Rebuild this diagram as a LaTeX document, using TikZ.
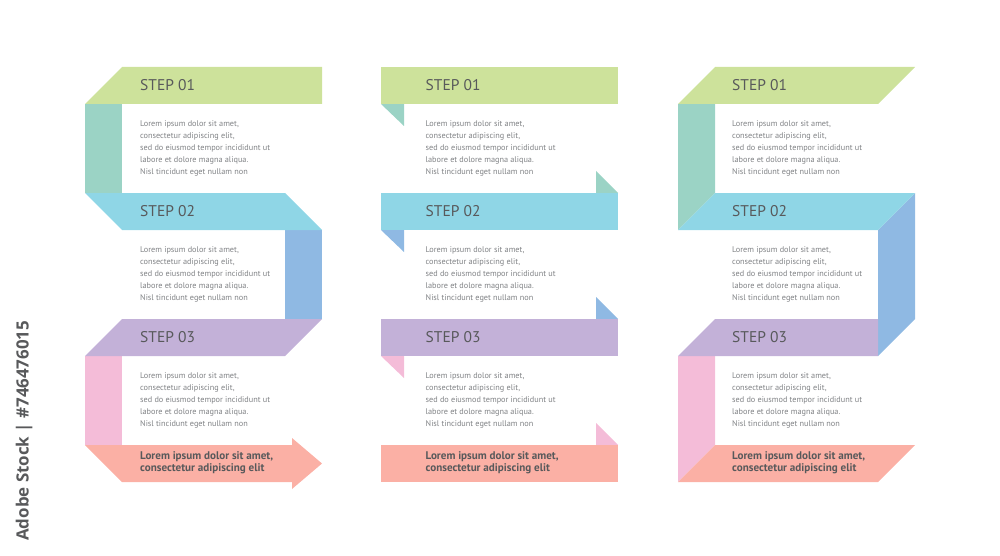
\documentclass[tikz,border=0pt]{standalone}
\usepackage{fontspec}
\setmainfont{PT Sans}
\newfontfamily\stockfont{Open Sans}
\definecolor{stepgreen}{HTML}{CDE29B}
\definecolor{stepteal}{HTML}{9BD3C5}
\definecolor{stepsky}{HTML}{8FD6E6}
\definecolor{stepblue}{HTML}{8FB9E3}
\definecolor{steppurple}{HTML}{C3B1D8}
\definecolor{steppink}{HTML}{F4BCD8}
\definecolor{stepsalmon}{HTML}{FBB0A5}
\definecolor{stepdark}{HTML}{58595B}
\definecolor{stepgrey}{HTML}{808285}
\newcommand{\loremtext}{Lorem ipsum dolor sit amet,\\consectetur adipiscing elit,\\sed do eiusmod tempor incididunt ut\\labore et dolore magna aliqua.\\Nisl tincidunt eget nullam non}
\newcommand{\lasttext}{Lorem ipsum dolor sit amet,\\consectetur adipiscing elit}
\tikzset{
  steptitle/.style={anchor=west,inner sep=0pt,text=stepdark,font=\fontsize{15.5}{16}\selectfont},
  stepbody/.style={anchor=west,inner sep=0pt,align=left,text=stepgrey,font=\fontsize{8.25}{11.8}\selectfont},
  steplast/.style={anchor=west,inner sep=0pt,align=left,text=stepdark,font=\fontsize{11.1}{11.6}\selectfont\bfseries},
}
\begin{document}
\begin{tikzpicture}[x=1pt,y=-1pt]
\useasboundingbox (0,0) rectangle (1000,556);
% left ribbon
\fill[stepteal] (85,104) rectangle (122,193);
\fill[stepblue] (285,230) rectangle (322,319);
\fill[steppink] (85,356) rectangle (122,445);
\fill[stepgreen] (122,67) -- (322,67) -- (322,104) -- (85,104) -- cycle;
\fill[stepsky] (85,193) -- (285,193) -- (322,230) -- (122,230) -- cycle;
\fill[steppurple] (122,319) -- (322,319) -- (285,356) -- (85,356) -- cycle;
\fill[stepsalmon] (85,445) -- (292,445) -- (292,438) -- (322,463.5) -- (292,489) -- (292,482) -- (122,482) -- cycle;
% middle bands
\foreach \y/\cola/\colb in {67/stepgreen/stepteal,193/stepsky/stepblue,319/steppurple/steppink} {
   \fill[\colb] (381,\y+37) -- (404,\y+37) -- (404,\y+59) -- cycle;
   \fill[\colb] (596,\y+104) -- (596,\y+126) -- (618,\y+126) -- cycle;
   \fill[\cola] (381,\y) rectangle (618,\y+37);
}
\fill[stepsalmon] (381,445) rectangle (618,482);
% right ribbon
\fill[stepteal] (678,104) -- (715,104) -- (715,193) -- (678,230) -- cycle;
\fill[stepblue] (915,193) -- (915,319) -- (878,356) -- (878,230) -- cycle;
\fill[steppink] (678,356) -- (715,356) -- (715,445) -- (678,482) -- cycle;
\fill[stepgreen] (715,67) -- (915,67) -- (878,104) -- (678,104) -- cycle;
\fill[stepsky] (715,193) -- (915,193) -- (878,230) -- (678,230) -- cycle;
\fill[steppurple] (715,319) -- (878,319) -- (878,356) -- (678,356) -- cycle;
\fill[stepsalmon] (715,445) -- (915,445) -- (878,482) -- (678,482) -- cycle;
% texts
\foreach \x/\c in {140/a,425.5/b,732/c} {
   \foreach \y/\n in {67/1,193/2,319/3} {
      \node[steptitle] (title\c\n) at (\x,\y+18) {STEP 0\n};
      \node[stepbody] (body\c\n) at (\x,\y+81.5) {\loremtext};
   }
   \node[steplast] (last\c) at (\x,462.5) {\lasttext};
}
\node[anchor=west,inner sep=0pt,rotate=90,text=stepdark,font=\stockfont\fontsize{16.9}{20}\selectfont\bfseries] (stockid) at (24,541) {Adobe Stock | \#746476015};
\end{tikzpicture}
\end{document}
